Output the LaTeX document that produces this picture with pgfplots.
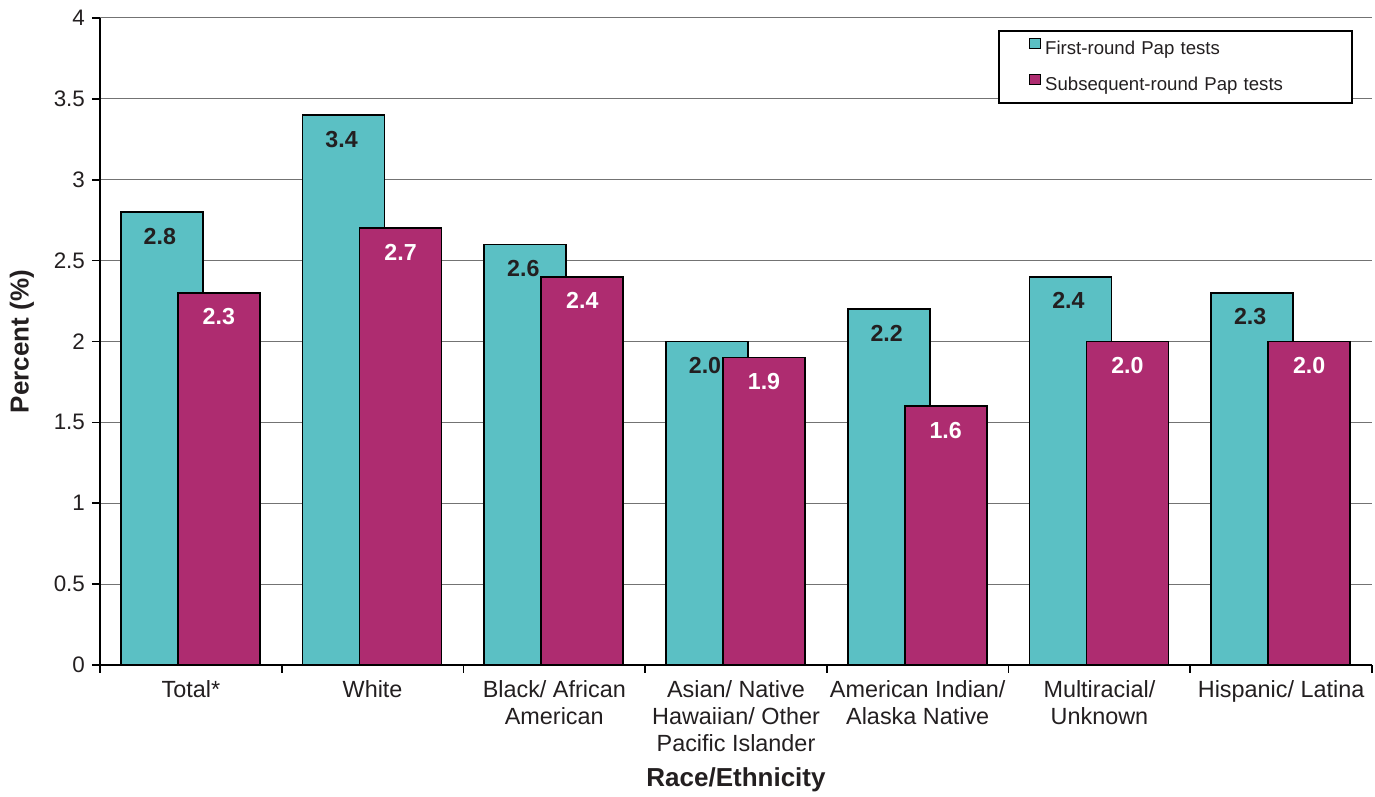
\documentclass[border=0pt]{standalone}
\usepackage{fontspec}
\setmainfont{Liberation Sans}
\usepackage{pgfplots}
\pgfplotsset{compat=1.18}
\definecolor{firstround}{HTML}{5BC0C4}
\definecolor{subsequent}{HTML}{AE2C70}
\definecolor{inkgray}{HTML}{231F20}

\begin{document}
\begin{tikzpicture}
\useasboundingbox (0,0) rectangle (687.5pt,398.5pt);
\begin{axis}[
  at={(50pt,66pt)}, anchor=south west,
  scale only axis, width=636pt, height=323.5pt,
  xmin=-0.5, xmax=6.5, ymin=0, ymax=4,
  axis lines*=left,
  axis line style={line width=1pt, black},
  tick align=outside,
  tick style={black, line width=0.8pt},
  major tick length=4pt,
  minor tick length=4pt,
  xtick={0,...,6},
  major x tick style={draw=none},
  minor xtick={-0.5,0.5,...,6.5},
  xticklabels={Total*, White, {Black/ African\\American},
    {Asian/ Native\\Hawaiian/ Other\\Pacific Islander},
    {American Indian/\\Alaska Native}, {Multiracial/\\Unknown},
    Hispanic/ Latina},
  xticklabel style={align=center, anchor=north, text=inkgray,
    font=\fontsize{11.7}{13.5}\selectfont},
  ytick={0,0.5,1,1.5,2,2.5,3,3.5,4},
  yticklabel style={text=inkgray, font=\fontsize{11.2}{13}\selectfont},
  /pgf/number format/assume math mode=true,
  ymajorgrids,
  grid style={gray!90!black, line width=0.5pt},
  xlabel={Race/Ethnicity},
  xlabel style={at={([yshift=-57.5pt]axis description cs:0.5,0)},
    anchor=center, text=inkgray, font=\bfseries\fontsize{13}{15}\selectfont},
  ylabel={Percent (\%)},
  ylabel style={at={([xshift=-39pt]axis description cs:0,0.5)},
    anchor=center, text=inkgray, font=\bfseries\fontsize{13}{15}\selectfont},
  legend cell align=left,
  legend style={at={(1,1)}, anchor=north east, xshift=-9.5pt, yshift=-6pt,
    draw=black, line width=0.8pt, inner sep=0pt,
    font=\fontsize{9.3}{11}\selectfont, text=inkgray,
    nodes={text width=151.5pt, minimum height=18pt, inner ysep=0pt, inner xsep=2pt}},
  legend image code/.code={%
    \path (0pt,0pt);
    \draw[#1, draw=black, line width=0.6pt] (15pt,0pt) rectangle (20.5pt,5.3pt);},
]
% first-round tests
\addplot[ybar, bar width=41pt, bar shift=-14.5pt, fill=firstround,
  draw=black, line width=0.8pt,
  nodes near coords={\pgfmathprintnumber[fixed,fixed zerofill,precision=1]{\pgfplotspointmeta}},
  nodes near coords style={anchor=center, xshift=-15.5pt, yshift=-12pt, text=inkgray,
    font=\bfseries\fontsize{11.6}{13}\selectfont}]
  coordinates {(0,2.8) (1,3.4) (2,2.6) (3,2.0) (4,2.2) (5,2.4) (6,2.3)};
\addlegendentry{First-round Pap tests}
% subsequent-round tests
\addplot[ybar, bar width=41pt, bar shift=14pt, fill=subsequent,
  draw=black, line width=0.8pt,
  nodes near coords={\pgfmathprintnumber[fixed,fixed zerofill,precision=1]{\pgfplotspointmeta}},
  nodes near coords style={anchor=center, xshift=14pt, yshift=-12pt, text=white,
    font=\bfseries\fontsize{11.6}{13}\selectfont}]
  coordinates {(0,2.3) (1,2.7) (2,2.4) (3,1.9) (4,1.6) (5,2.0) (6,2.0)};
\addlegendentry{Subsequent-round Pap tests}
\end{axis}
\end{tikzpicture}
\end{document}
